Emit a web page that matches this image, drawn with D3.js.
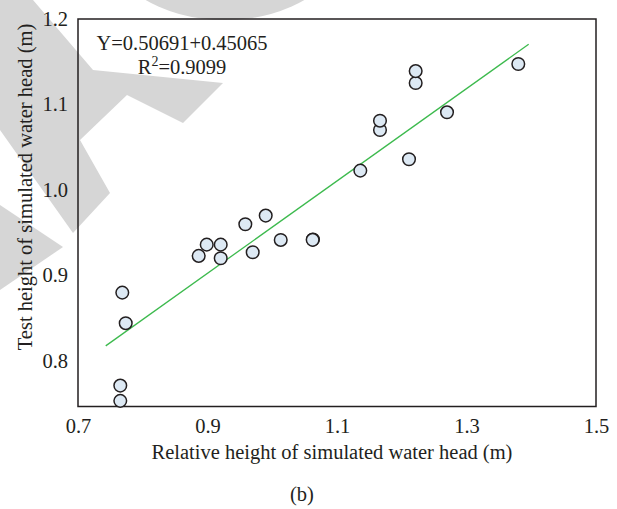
<!DOCTYPE html>
<html>
<head>
<meta charset="utf-8">
<script src="https://cdn.jsdelivr.net/npm/d3@7/dist/d3.min.js"></script>
<style>
  html, body { margin: 0; padding: 0; background: #ffffff; }
  svg { display: block; }
  text { font-family: "Liberation Serif", "DejaVu Serif", serif; fill: #231f20; }
</style>
</head>
<body>
<svg id="chart" width="617" height="509"></svg>
<script>
// Relative height of simulated water head (m)
const relHeight = [0.7684, 0.7737, 0.7653, 0.7653, 0.8864, 0.8988, 0.9204, 0.9204,
                   0.9584, 0.9698, 0.9899, 1.0131, 1.0629, 1.0624, 1.1360, 1.1664,
                   1.1664, 1.2112, 1.2215, 1.2215, 1.2699, 1.3800];
// Test height of simulated water head (m)
const testHeight = [0.8795, 0.8437, 0.7706, 0.7527, 0.9225, 0.9357, 0.9357, 0.9198,
                    0.9596, 0.9268, 0.9697, 0.9412, 0.9416, 0.9413, 1.0224, 1.0700,
                    1.0809, 1.0357, 1.1250, 1.1390, 1.0907, 1.1473];

// Fitted trend line end points
const fitX = [0.7428, 1.396];
const fitY = [0.8171, 1.1704];

const xTicks = [0.7, 0.9, 1.1, 1.3, 1.5];
const yTicks = [0.8, 0.9, 1.0, 1.1, 1.2];

const equationText = "Y=0.50691+0.45065";
const r2Value = "0.9099";
const xTitle = "Relative height of simulated water head (m)";
const yTitle = "Test height of simulated water head (m)";
const panelLabel = "(b)";

const FS = "20.5px";
const svg = d3.select("#chart");
const plot = { left: 78, right: 596, top: 19, bottom: 406.5 };

const x = d3.scaleLinear().domain([0.7, 1.5]).range([plot.left, plot.right]);
const y = d3.scaleLinear().domain([0.7461, 1.2]).range([plot.bottom, plot.top]);

// light grey background mark
const wm = svg.append("g").attr("fill", "#d6d6d6");
wm.append("ellipse").attr("cx", 225).attr("cy", -60).attr("rx", 120).attr("ry", 80);
wm.append("polygon").attr("points",
  [[0,0],[33,0],[93,70],[223,83],[183,123],[127,95],[80,140],[110,193],[73,233],[0,130]].join(" "));
wm.append("polygon").attr("points", [[0,205],[63,247],[0,290]].join(" "));

// axes (labels only, no tick marks)
const xAxis = d3.axisBottom(x).tickValues(xTicks).tickFormat(d3.format(".1f")).tickSize(0).tickPadding(0);
const yAxis = d3.axisLeft(y).tickValues(yTicks).tickFormat(d3.format(".1f")).tickSize(0).tickPadding(0);

const gx = svg.append("g").attr("transform", `translate(0,${plot.bottom})`).call(xAxis);
gx.select(".domain").remove();
gx.selectAll("text").attr("dy", null).attr("y", 26).style("font-size", FS)
  .attr("font-family", "Liberation Serif").attr("fill", "#231f20");

const gy = svg.append("g").attr("transform", `translate(${plot.left},0)`).call(yAxis);
gy.select(".domain").remove();
gy.selectAll("text").attr("x", -10).attr("dy", "0.32em").style("font-size", FS)
  .attr("font-family", "Liberation Serif").attr("fill", "#231f20");

// frame
svg.append("rect")
  .attr("x", plot.left).attr("y", plot.top)
  .attr("width", plot.right - plot.left).attr("height", plot.bottom - plot.top)
  .attr("fill", "none").attr("stroke", "#231f20").attr("stroke-width", 1.5);

// trend line
svg.append("line")
  .attr("x1", x(fitX[0])).attr("y1", y(fitY[0]))
  .attr("x2", x(fitX[1])).attr("y2", y(fitY[1]))
  .attr("stroke", "#3dba4e").attr("stroke-width", 1.3);

// points
const pts = relHeight.map((v, i) => ({ x: v, y: testHeight[i] }));
svg.append("g").selectAll("circle").data(pts).join("circle")
  .attr("cx", d => x(d.x)).attr("cy", d => y(d.y)).attr("r", 6.3)
  .attr("fill", "#dde9f4").attr("stroke", "#231f20").attr("stroke-width", 1.5);

// equation
svg.append("text").attr("x", 182).attr("y", 50).attr("text-anchor", "middle")
  .style("font-size", FS).text(equationText);
const r2 = svg.append("text").attr("x", 182).attr("y", 74).attr("text-anchor", "middle")
  .style("font-size", FS);
r2.append("tspan").text("R");
r2.append("tspan").attr("dy", -8).style("font-size", "14px").text("2");
r2.append("tspan").attr("dy", 8).text("=" + r2Value);

// axis titles
svg.append("text").attr("x", 332).attr("y", 459)
  .attr("text-anchor", "middle").style("font-size", FS).text(xTitle);
svg.append("text").attr("transform", "translate(32,187) rotate(-90)")
  .attr("text-anchor", "middle").style("font-size", FS).text(yTitle);

svg.append("text").attr("x", 302).attr("y", 501).attr("text-anchor", "middle")
  .style("font-size", FS).text(panelLabel);
</script>
</body>
</html>
